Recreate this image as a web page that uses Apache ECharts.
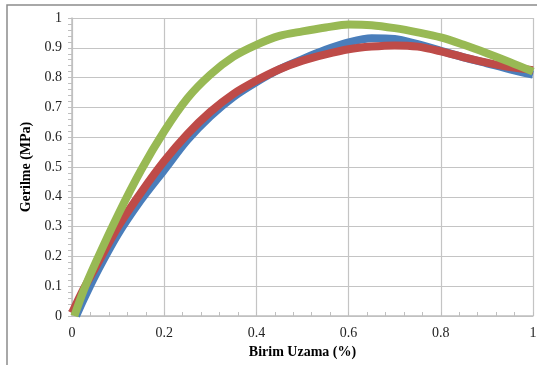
<!DOCTYPE html>
<html>
<head>
<meta charset="utf-8">
<script src="https://cdn.jsdelivr.net/npm/echarts@6/dist/echarts.min.js"></script>
<style>html,body{margin:0;padding:0;background:#fff;}#c{width:537px;height:365px;}</style>
</head>
<body>
<div id="c"></div>
<script>
var xTicks = [0, 0.2, 0.4, 0.6, 0.8, 1];
var yTicks = [0, 0.1, 0.2, 0.3, 0.4, 0.5, 0.6, 0.7, 0.8, 0.9, 1];

var blueX = [0.009,0.025,0.05,0.1,0.15,0.2,0.25,0.3,0.35,0.4,0.45,0.5,0.55,0.6,0.65,0.7,0.75,0.8,0.85,0.9,0.95,1.0];
var blueY = [0,0.055,0.135,0.275,0.39,0.49,0.59,0.67,0.735,0.785,0.828,0.862,0.893,0.918,0.932,0.93,0.912,0.89,0.868,0.848,0.828,0.81];

var redX = [0,0.025,0.05,0.1,0.15,0.2,0.25,0.3,0.35,0.4,0.45,0.5,0.55,0.6,0.65,0.7,0.75,0.8,0.85,0.9,0.95,1.0];
var redY = [0.01,0.09,0.16,0.30,0.415,0.52,0.61,0.685,0.745,0.79,0.828,0.857,0.878,0.895,0.904,0.908,0.904,0.888,0.868,0.85,0.835,0.825];

var greenX = [0.005,0.025,0.05,0.1,0.15,0.2,0.25,0.3,0.35,0.4,0.45,0.5,0.55,0.6,0.65,0.7,0.75,0.8,0.85,0.9,0.95,1.0];
var greenY = [0,0.085,0.175,0.34,0.49,0.62,0.73,0.81,0.87,0.91,0.94,0.955,0.968,0.978,0.976,0.966,0.952,0.935,0.91,0.882,0.852,0.82];

function pairs(xs, ys){ return xs.map(function(x,i){ return [x, ys[i]]; }); }

var font = '"Liberation Serif", "Times New Roman", serif';
var chart = echarts.init(document.getElementById('c'), null, {renderer:'canvas'});
chart.setOption({
  animation: false,
  backgroundColor: '#fff',
  graphic: [{
    type: 'rect', shape: {x: 7, y: 5, width: 540, height: 370},
    style: {fill: 'none', stroke: '#8c8c8c', lineWidth: 1.5}, silent: true, z: -1
  }],
  grid: {left: 72, right: 4, top: 18, bottom: 49, containLabel: false, outerBoundsMode: 'none'},
  xAxis: {
    type: 'value', min: 0, max: 1, interval: 0.2,
    name: 'Birim Uzama (%)', nameLocation: 'middle', nameGap: 29,
    nameTextStyle: {fontFamily: font, fontWeight: 'bold', fontSize: 14, color: '#000'},
    axisLine: {show: true, lineStyle: {color: '#bfbfbf', width: 1.5}},
    axisTick: {show: true, inside: true, length: 4, lineStyle: {color: '#bfbfbf'}},
    minorTick: {show: true, splitNumber: 5, length: 4, lineStyle: {color: '#bfbfbf'}},
    splitLine: {show: true, lineStyle: {color: '#c4c4c4', width: 1.2}},
    axisLabel: {fontFamily: font, fontSize: 14, color: '#222', margin: 10,
      formatter: function(v){ return String(+v.toFixed(1)); }}
  },
  yAxis: {
    type: 'value', min: 0, max: 1, interval: 0.1,
    name: 'Gerilme (MPa)', nameLocation: 'middle', nameGap: 33,
    nameTextStyle: {fontFamily: font, fontWeight: 'bold', fontSize: 14, color: '#000'},
    axisLine: {show: true, lineStyle: {color: '#bfbfbf', width: 1.5}},
    axisTick: {show: true, inside: false, length: 4, lineStyle: {color: '#bfbfbf'}},
    minorTick: {show: true, splitNumber: 5, length: 4, lineStyle: {color: '#bfbfbf'}},
    splitLine: {show: true, lineStyle: {color: '#c4c4c4', width: 1.2}},
    axisLabel: {fontFamily: font, fontSize: 14, color: '#222', margin: 10,
      formatter: function(v){ return String(+v.toFixed(1)); }}
  },
  series: [
    {type: 'line', data: pairs(blueX, blueY), smooth: 0.3, showSymbol: false,
     lineStyle: {color: '#4a7ebb', width: 8}, z: 2},
    {type: 'line', data: pairs(redX, redY), smooth: 0.3, showSymbol: false,
     lineStyle: {color: '#be4b48', width: 8}, z: 3},
    {type: 'line', data: pairs(greenX, greenY), smooth: 0.3, showSymbol: false,
     lineStyle: {color: '#98b954', width: 8}, z: 4}
  ]
});
</script>
</body>
</html>
